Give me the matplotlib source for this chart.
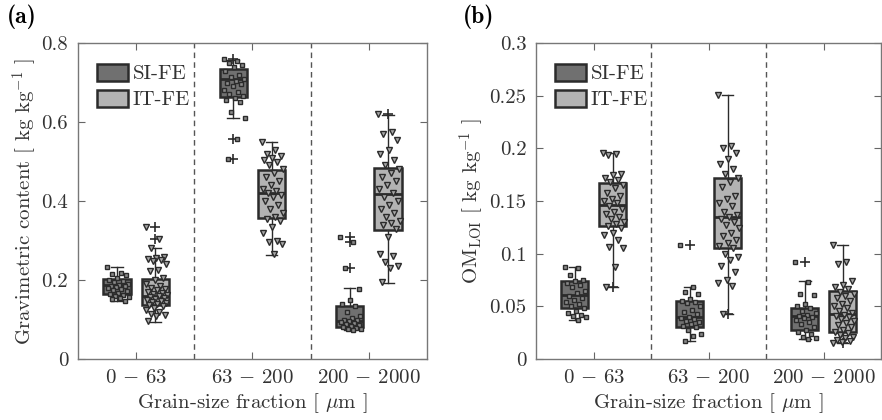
import matplotlib.pyplot as plt
from matplotlib.patches import Patch
import numpy as np

plt.rcParams['font.family'] = 'cmr10'
plt.rcParams['mathtext.fontset'] = 'cm'
plt.rcParams['axes.formatter.use_mathtext'] = True

fractions = [r'$0\,-\,63$', r'$63\,-\,200$', r'$200\,-\,2000$']
series = ['SI-FE', 'IT-FE']

# (a) gravimetric content, points per fraction
grav_si = [
    [0.232, 0.218, 0.215, 0.212, 0.205, 0.2, 0.198, 0.195, 0.19, 0.188, 0.186, 0.185, 0.183,
     0.18, 0.178, 0.175, 0.172, 0.168, 0.165, 0.162, 0.16, 0.158, 0.155, 0.152, 0.148],
    [0.76, 0.755, 0.75, 0.745, 0.74, 0.73, 0.72, 0.715, 0.71, 0.705, 0.7, 0.695, 0.69, 0.68,
     0.675, 0.67, 0.665, 0.66, 0.655, 0.65, 0.625, 0.61, 0.556, 0.506],
    [0.31, 0.295, 0.23, 0.178, 0.15, 0.14, 0.135, 0.12, 0.11, 0.105, 0.1, 0.098, 0.095, 0.093,
     0.09, 0.088, 0.085, 0.083, 0.08, 0.078, 0.076, 0.075, 0.073],
]
grav_it = [
    [0.335, 0.305, 0.28, 0.258, 0.256, 0.254, 0.25, 0.248, 0.24, 0.225, 0.222, 0.205, 0.2, 0.19,
     0.185, 0.18, 0.178, 0.175, 0.17, 0.168, 0.165, 0.162, 0.16, 0.158, 0.155, 0.152, 0.15,
     0.148, 0.145, 0.142, 0.14, 0.138, 0.135, 0.13, 0.125, 0.12, 0.115, 0.112, 0.11, 0.095],
    [0.55, 0.53, 0.52, 0.515, 0.51, 0.505, 0.5, 0.49, 0.48, 0.47, 0.46, 0.45, 0.44, 0.43, 0.425,
     0.42, 0.415, 0.41, 0.4, 0.39, 0.38, 0.37, 0.36, 0.355, 0.35, 0.335, 0.32, 0.3, 0.295, 0.29,
     0.265],
    [0.62, 0.575, 0.57, 0.555, 0.53, 0.52, 0.505, 0.49, 0.48, 0.47, 0.46, 0.45, 0.44, 0.43, 0.42,
     0.41, 0.4, 0.39, 0.38, 0.37, 0.36, 0.35, 0.345, 0.34, 0.33, 0.31, 0.265, 0.26, 0.245,
     0.235, 0.23, 0.195],
]
# box stats: q1, median, q3, whisker low, whisker high
grav_si_box = [(0.165, 0.187, 0.202, 0.147, 0.233),
               (0.664, 0.709, 0.735, 0.609, 0.757),
               (0.082, 0.097, 0.134, 0.073, 0.180)]
grav_it_box = [(0.138, 0.160, 0.203, 0.094, 0.280),
               (0.356, 0.421, 0.478, 0.263, 0.550),
               (0.327, 0.417, 0.484, 0.193, 0.618)]

# (b) OM_LOI
om_si = [
    [0.087, 0.086, 0.08, 0.075, 0.074, 0.072, 0.07, 0.068, 0.065, 0.063, 0.06, 0.058, 0.056,
     0.054, 0.052, 0.05, 0.048, 0.046, 0.044, 0.042, 0.041, 0.04, 0.037],
    [0.108, 0.068, 0.064, 0.062, 0.057, 0.055, 0.054, 0.053, 0.05, 0.047, 0.045, 0.043, 0.04,
     0.039, 0.038, 0.036, 0.035, 0.033, 0.031, 0.03, 0.028, 0.024, 0.022, 0.017],
    [0.092, 0.073, 0.062, 0.061, 0.052, 0.05, 0.048, 0.046, 0.044, 0.042, 0.041, 0.04, 0.039,
     0.037, 0.035, 0.033, 0.03, 0.028, 0.026, 0.024, 0.021, 0.02, 0.019],
]
om_it = [
    [0.196, 0.195, 0.194, 0.176, 0.175, 0.172, 0.17, 0.168, 0.165, 0.162, 0.158, 0.155, 0.152,
     0.15, 0.148, 0.145, 0.142, 0.14, 0.138, 0.135, 0.133, 0.13, 0.128, 0.126, 0.124, 0.12,
     0.118, 0.113, 0.106, 0.105, 0.087, 0.068],
    [0.251, 0.202, 0.2, 0.196, 0.19, 0.185, 0.18, 0.176, 0.172, 0.168, 0.163, 0.155, 0.152,
     0.148, 0.145, 0.14, 0.137, 0.135, 0.133, 0.13, 0.127, 0.124, 0.12, 0.117, 0.113, 0.11,
     0.107, 0.105, 0.1, 0.097, 0.094, 0.088, 0.083, 0.075, 0.072, 0.069, 0.043],
    [0.108, 0.092, 0.09, 0.074, 0.07, 0.068, 0.066, 0.064, 0.062, 0.06, 0.058, 0.055, 0.052,
     0.05, 0.048, 0.046, 0.044, 0.042, 0.041, 0.04, 0.038, 0.036, 0.034, 0.032, 0.03, 0.028,
     0.026, 0.025, 0.023, 0.021, 0.02, 0.018, 0.017, 0.016, 0.015],
]
om_si_box = [(0.0486, 0.0603, 0.0743, 0.0368, 0.0876),
             (0.0305, 0.0400, 0.0549, 0.0168, 0.0686),
             (0.0273, 0.0413, 0.0486, 0.0190, 0.0740)]
om_it_box = [(0.1263, 0.1460, 0.1667, 0.0686, 0.1960),
             (0.1057, 0.1352, 0.1714, 0.0432, 0.2510),
             (0.0260, 0.0429, 0.0641, 0.0152, 0.1080)]

grav_ticks = [0, 0.2, 0.4, 0.6, 0.8]
grav_ticklabels = ['0', '0.2', '0.4', '0.6', '0.8']
om_ticks = [0, 0.05, 0.1, 0.15, 0.2, 0.25, 0.3]
om_ticklabels = ['0', '0.05', '0.1', '0.15', '0.2', '0.25', '0.3']

dark = '#2b2b2b'
text_col = '#333333'
si_face = '#707070'
it_face = '#b3b3b3'
offset = 0.165
width = 0.235
fs = 15


def make_stats(box, pts):
    q1, med, q3, lo, hi = box
    fl = [p for p in pts if p > hi + 1e-9 or p < lo - 1e-9]
    return dict(q1=q1, med=med, q3=q3, whislo=lo, whishi=hi, fliers=fl)


def draw_panel(ax, si_pts, it_pts, si_box, it_box):
    x = np.arange(1, len(fractions) + 1)
    for pts_list, boxes, sign, face, mk, mface, msize in [
            (si_pts, si_box, -1, si_face, 's', '#8a8a8a', 3.3),
            (it_pts, it_box, 1, it_face, 'v', '#a8a8a8', 4.8)]:
        pos = x + sign * offset
        stats = [make_stats(b, p) for b, p in zip(boxes, pts_list)]
        ax.bxp(stats, positions=pos, widths=width, patch_artist=True, showfliers=True,
               capwidths=0.1,
               boxprops=dict(facecolor=face, edgecolor=dark, linewidth=1.8),
               medianprops=dict(color=dark, linewidth=2.0),
               whiskerprops=dict(color=dark, linewidth=1.0),
               capprops=dict(color=dark, linewidth=1.0),
               flierprops=dict(marker='+', markeredgecolor=dark, markersize=7,
                               markeredgewidth=1.2))
        for p0, pts in zip(pos, pts_list):
            n = len(pts)
            jit = ((np.arange(n) * 0.6180339887) % 1.0 - 0.5) * 0.8 * width
            ax.plot(p0 + jit + 0.01, pts, linestyle='none', marker=mk, markersize=msize,
                    markerfacecolor=mface, markeredgecolor=dark, markeredgewidth=1.0,
                    zorder=4)
    for xd in [1.5, 2.5]:
        ax.axvline(xd, color='#555555', linestyle=(0, (4, 3)), linewidth=1.0, zorder=0)
    ax.set_xlim(0.5, 3.5)
    ax.set_xticks(x)
    ax.set_xticklabels(fractions)
    ax.tick_params(direction='in', top=True, right=True, length=5, width=0.8,
                   color='#666666', labelsize=fs, labelcolor=text_col, pad=7)
    for s in ax.spines.values():
        s.set_color('#777777')
        s.set_linewidth(1.0)
    ax.set_xlabel(r'Grain-size fraction [ $\mu$m ]', fontsize=fs, color=text_col, labelpad=3)
    handles = [Patch(facecolor=si_face, edgecolor=dark, linewidth=1.8),
               Patch(facecolor=it_face, edgecolor=dark, linewidth=1.8)]
    ax.legend(handles, series, loc='upper left', bbox_to_anchor=(0.055, 0.935),
              frameon=False, fontsize=fs, handlelength=1.5, handleheight=0.9,
              handletextpad=0.2, labelspacing=0.3, borderpad=0, borderaxespad=0,
              labelcolor=text_col)


fig = plt.figure(figsize=(8.82, 4.2), dpi=100)
ax1 = fig.add_axes([0.0884, 0.1452, 0.3957, 0.7524])
ax2 = fig.add_axes([0.6077, 0.1452, 0.3915, 0.7524])

draw_panel(ax1, grav_si, grav_it, grav_si_box, grav_it_box)
ax1.set_ylim(0, 0.8)
ax1.set_yticks(grav_ticks)
ax1.set_yticklabels(grav_ticklabels)
ax1.set_ylabel(r'Gravimetric content [ kg kg$^{-1}$ ]', fontsize=fs, color=text_col,
               labelpad=2)

draw_panel(ax2, om_si, om_it, om_si_box, om_it_box)
ax2.set_ylim(0, 0.3)
ax2.set_yticks(om_ticks)
ax2.set_yticklabels(om_ticklabels)
ax2.set_ylabel(r'OM$_{\mathrm{LOI}}$ [ kg kg$^{-1}$ ]', fontsize=fs, color=text_col,
               labelpad=2)

fig.text(0.008, 0.99, '(a)', family='cmb10', fontsize=17, va='top', ha='left')
fig.text(0.525, 0.99, '(b)', family='cmb10', fontsize=17, va='top', ha='left')

fig.savefig('out.png', dpi=100)
